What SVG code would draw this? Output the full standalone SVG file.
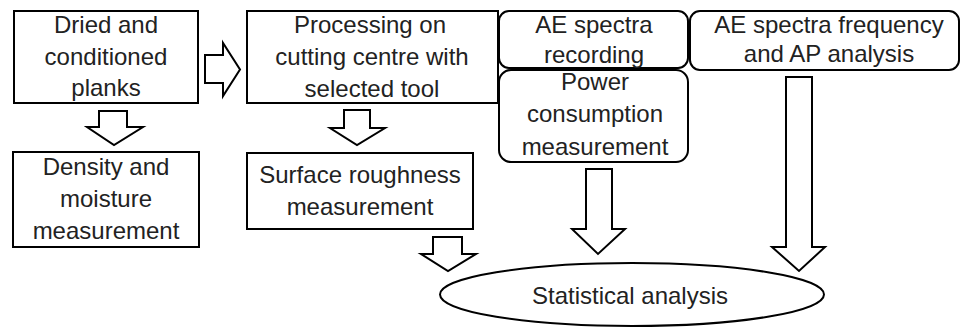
<svg xmlns="http://www.w3.org/2000/svg" width="961" height="328" viewBox="0 0 961 328">
<style>
.box{fill:#fff;stroke:#000;stroke-width:2}
.arr{fill:#fff;stroke:#000;stroke-width:2;stroke-linejoin:miter}
text{font-family:"Liberation Sans",Arial,sans-serif;font-size:24px;fill:#222;text-anchor:middle}
</style>
<rect width="961" height="328" fill="#fff"/>
<g id="connectors">
<polygon class="arr" points="205,55 223,55 223,43 240,69.5 223,96 223,83 205,83"/>
<polygon class="arr" points="99,111 127,111 127,127 143,127 114,145 87,127 99,127"/>
<polygon class="arr" points="344,110 370,110 370,128 385,128 357,145 330,128 344,128"/>
<polygon class="arr" points="433,237 462,237 462,254 476,254 448,271 421,254 433,254"/>
<polygon class="arr" points="586,169 612,169 612,229 625,229 598,254 572,229 586,229"/>
<polygon class="arr" points="786,77 812,77 812,247 825,247 799,271 772,247 786,247"/>
</g>
<g id="dried">
<rect class="box" x="14" y="11" width="184" height="92"/>
<text x="106" y="33">Dried and</text>
<text x="106" y="65">conditioned</text>
<text x="106" y="96">planks</text>
</g>
<g id="density">
<rect class="box" x="13" y="152" width="186" height="95"/>
<text x="106" y="175">Density and</text>
<text x="106" y="207">moisture</text>
<text x="106" y="239">measurement</text>
</g>
<g id="processing">
<rect class="box" x="247" y="11" width="251" height="92"/>
<text x="370" y="33">Processing on</text>
<text x="372" y="65">cutting centre with</text>
<text x="372" y="97">selected tool</text>
</g>
<g id="surface">
<rect class="box" x="247" y="153" width="226" height="76"/>
<text x="360" y="183">Surface roughness</text>
<text x="360" y="215">measurement</text>
</g>
<g id="ae-recording">
<rect class="box" x="499" y="11" width="189" height="57" rx="10" ry="10"/>
<text x="594" y="33">AE spectra</text>
<text x="594" y="63">recording</text>
</g>
<g id="power">
<rect class="box" x="499" y="70" width="189" height="92" rx="12" ry="12"/>
<text x="595" y="90">Power</text>
<text x="595" y="122">consumption</text>
<text x="595" y="155">measurement</text>
</g>
<g id="ae-frequency">
<rect class="box" x="690" y="11" width="269" height="59" rx="10" ry="10"/>
<text x="829" y="33">AE spectra frequency</text>
<text x="829" y="62">and AP analysis</text>
</g>
<g id="statistical">
<ellipse class="box" cx="632" cy="294.5" rx="192" ry="31.5"/>
<text x="630" y="304">Statistical analysis</text>
</g>
</svg>
